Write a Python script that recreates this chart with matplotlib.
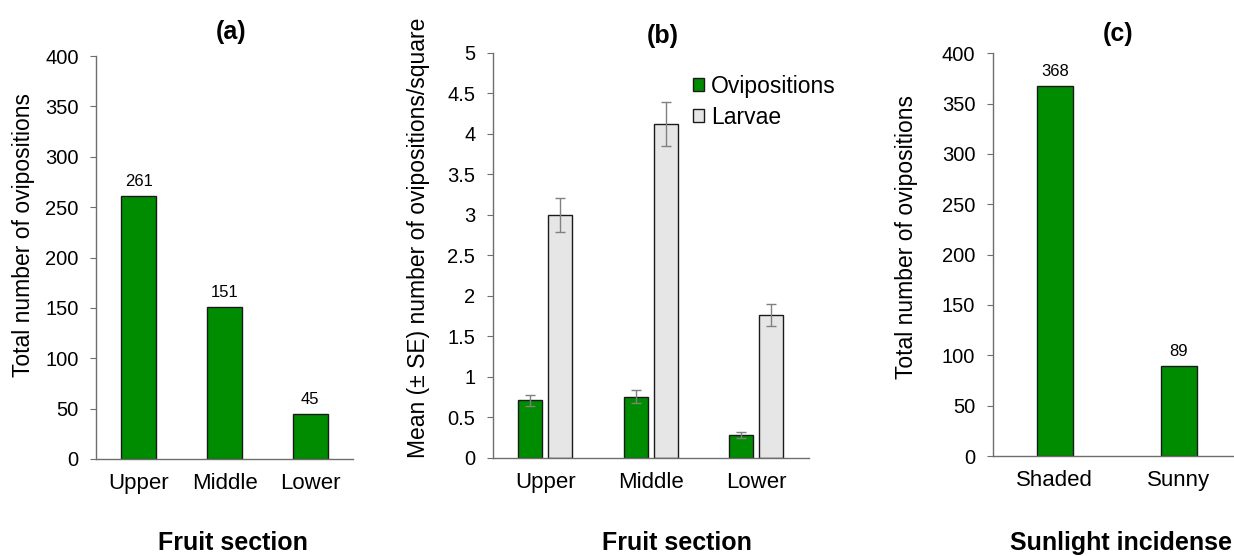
import matplotlib
matplotlib.use("Agg")
import matplotlib.pyplot as plt
import numpy as np
from matplotlib.patches import Patch

plt.rcParams['font.family'] = ['Liberation Sans', 'DejaVu Sans']

# ---- data ----
sections = ["Upper", "Middle", "Lower"]
total_ovi_section = [261, 151, 45]

ovi_mean = [0.71, 0.75, 0.28]
ovi_se = [0.07, 0.08, 0.04]
larvae_mean = [3.00, 4.12, 1.76]
larvae_se = [0.21, 0.27, 0.14]

sun = ["Shaded", "Sunny"]
total_ovi_sun = [368, 89]

GREEN = "#008C00"
GREY = "#E6E6E6"
EDGE = "#1a1a1a"
SPINE = "#6e6e6e"
W, H = 1234, 556

fig = plt.figure(figsize=(W / 100, H / 100), dpi=100)


def px_axes(left, right, top, bottom):
    return fig.add_axes([left / W, 1 - bottom / H, (right - left) / W, (bottom - top) / H])


def style(ax):
    for s in ["top", "right"]:
        ax.spines[s].set_visible(False)
    for s in ["left", "bottom"]:
        ax.spines[s].set_color(SPINE)
        ax.spines[s].set_linewidth(1.0)
    ax.tick_params(axis="y", direction="out", length=4.5, color=SPINE, labelsize=14.5, pad=8)
    ax.tick_params(axis="x", length=0, labelsize=16, pad=10)


# ---- panel (a) ----
ax1 = px_axes(96, 353, 56, 459)
x = np.arange(len(sections))
ax1.bar(x, total_ovi_section, width=0.41, color=GREEN, edgecolor=EDGE, linewidth=1.0)
for xi, v in zip(x, total_ovi_section):
    ax1.annotate(str(v), (xi, v), xytext=(0, 5), textcoords="offset points",
                 ha="center", va="bottom", fontsize=12)
ax1.set_xlim(-0.5, 2.5)
ax1.set_ylim(0, 400)
ax1.set_yticks(np.arange(0, 401, 50))
ax1.set_xticks(x)
ax1.set_xticklabels(sections)
style(ax1)

# ---- panel (b) ----
ax2 = px_axes(492.7, 809, 52.7, 457.7)
off = 0.142
bw = 0.227
ekw = dict(ecolor="#808080", elinewidth=1.0, capsize=3.6, capthick=1.0)
ax2.bar(x - off, ovi_mean, width=bw, color=GREEN, edgecolor=EDGE, linewidth=1.0,
        yerr=ovi_se, error_kw=ekw, label="Ovipositions")
ax2.bar(x + off, larvae_mean, width=bw, color=GREY, edgecolor=EDGE, linewidth=1.0,
        yerr=larvae_se, error_kw=ekw, label="Larvae")
ax2.set_xlim(-0.5, 2.5)
ax2.set_ylim(0, 5)
ax2.set_yticks(np.arange(0, 5.01, 0.5))
ax2.set_yticklabels(["0", "0.5", "1", "1.5", "2", "2.5", "3", "3.5", "4", "4.5", "5"])
ax2.set_xticks(x)
ax2.set_xticklabels(sections)
style(ax2)
handles = [Patch(facecolor=GREEN, edgecolor=EDGE, label="Ovipositions"),
           Patch(facecolor=GREY, edgecolor=EDGE, label="Larvae")]
ax2.legend(handles=handles, loc="upper left", bbox_to_anchor=(0.633, 0.945), frameon=False,
           fontsize=16.5, handlelength=0.5, handleheight=0.5, handletextpad=0.3,
           labelspacing=0.35, borderaxespad=0, borderpad=0)

# ---- panel (c) ----
ax3 = px_axes(992.7, 1241, 53.3, 456)
xs = np.arange(len(sun))
ax3.bar(xs, total_ovi_sun, width=0.29, color=GREEN, edgecolor=EDGE, linewidth=1.0)
for xi, v in zip(xs, total_ovi_sun):
    ax3.annotate(str(v), (xi, v), xytext=(0, 5), textcoords="offset points",
                 ha="center", va="bottom", fontsize=12)
ax3.set_xlim(-0.5, 1.5)
ax3.set_ylim(0, 400)
ax3.set_yticks(np.arange(0, 401, 50))
ax3.set_xticks(xs)
ax3.set_xticklabels(sun)
style(ax3)

# ---- titles / labels in pixel positions ----
def ftext(px, py, s, **kw):
    fig.text(px / W, 1 - py / H, s, **kw)

ftext(231, 32, "(a)", ha="center", va="center", fontsize=18, fontweight="bold")
ftext(663, 36, "(b)", ha="center", va="center", fontsize=18, fontweight="bold")
ftext(1118, 34, "(c)", ha="center", va="center", fontsize=18, fontweight="bold")

ftext(233, 555, "Fruit section", ha="center", va="bottom", fontsize=18, fontweight="bold")
ftext(677, 555.5, "Fruit section", ha="center", va="bottom", fontsize=18, fontweight="bold")
ftext(1121, 550, "Sunlight incidense", ha="center", va="baseline", fontsize=18, fontweight="bold")

ftext(24, 235, "Total number of ovipositions", ha="center", va="center", rotation=90, fontsize=16.5)
ftext(419, 238, "Mean (\u00b1 SE) number of ovipositions/square", ha="center", va="center",
      rotation=90, fontsize=16.5)
ftext(906, 237, "Total number of ovipositions", ha="center", va="center", rotation=90, fontsize=16.5)

fig.savefig("out.png", dpi=100)
